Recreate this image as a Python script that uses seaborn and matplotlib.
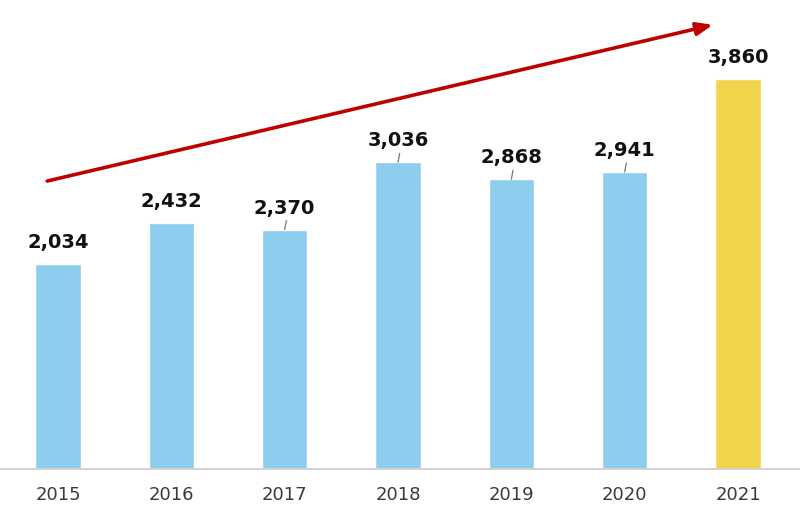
import matplotlib
matplotlib.use("Agg")
import matplotlib.pyplot as plt
import seaborn as sns
import pandas as pd

years = ["2015", "2016", "2017", "2018", "2019", "2020", "2021"]
values = [2034, 2432, 2370, 3036, 2868, 2941, 3860]
leader = [False, False, True, True, True, True, False]

blue = "#8FCDEE"
yellow = "#F0D54B"
colors = [blue] * 6 + [yellow]

sns.set_theme(style="white")
plt.rcParams['font.family'] = ['DejaVu Sans']

df = pd.DataFrame({"year": years, "value": values})

fig = plt.figure(figsize=(8, 5.07), dpi=100)
ax = fig.add_axes([0, 38 / 507, 1, 469 / 507])

sns.barplot(data=df, x="year", y="value", hue="year", palette=colors,
            legend=False, width=0.40, ax=ax, saturation=1)

ax.set_xlim(-0.512, 6.547)
ax.set_ylim(0, 4643)
ax.set_xlabel("")
ax.set_ylabel("")
ax.set_yticks([])
for s in ["top", "right", "left"]:
    ax.spines[s].set_visible(False)
ax.spines["bottom"].set_color("#D3D3D3")
ax.spines["bottom"].set_linewidth(1.5)
ax.tick_params(axis="x", length=0, pad=12, labelsize=13, labelcolor="#3A3A3A")

for i, (v, l) in enumerate(zip(values, leader)):
    ax.annotate(f"{v:,}", xy=(i, v), xytext=(0, 15.5), textcoords="offset points",
                ha="center", va="center", fontsize=14, fontweight="bold",
                color="#111111")
    if l:
        ax.annotate("", xy=(i, v), xytext=(1.2, 6.5), textcoords="offset points",
                    arrowprops=dict(arrowstyle="-", color="#777777", lw=0.9,
                                    shrinkA=0, shrinkB=0))

# trend arrow
ax.annotate("", xy=(0.891, 0.947), xytext=(0.059, 0.614),
            xycoords="axes fraction", textcoords="axes fraction",
            arrowprops=dict(arrowstyle="-|>,head_length=0.8,head_width=0.32",
                            color="#C00000", lw=2.6, shrinkA=0, shrinkB=0),
            annotation_clip=False)

fig.savefig("out.png", dpi=100)
